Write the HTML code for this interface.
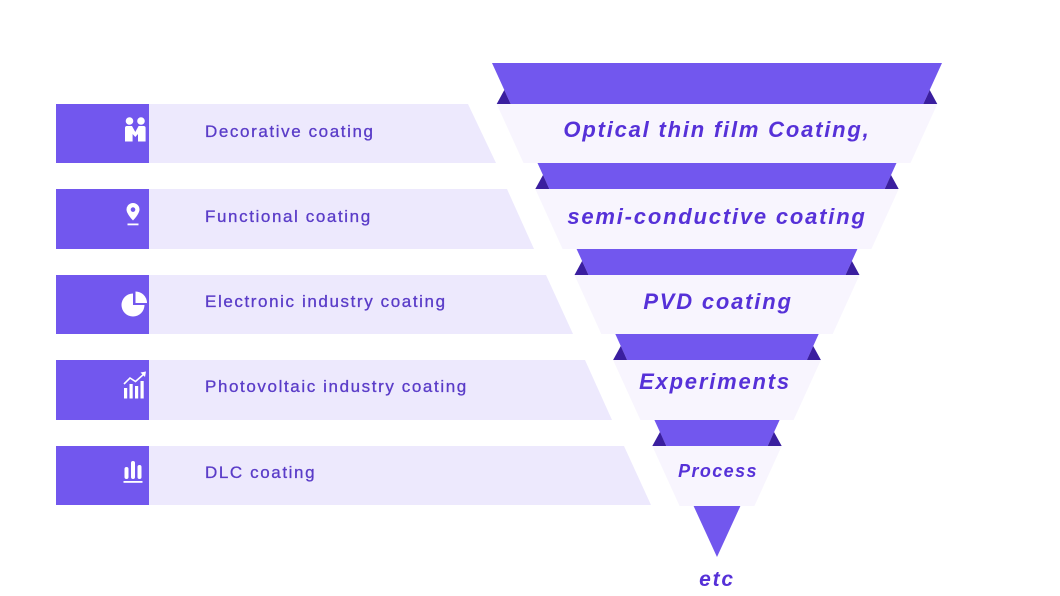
<!DOCTYPE html>
<html>
<head>
<meta charset="utf-8">
<style>
html,body{margin:0;padding:0;background:#ffffff;}
body{width:1060px;height:596px;overflow:hidden;}
svg{display:block;}
.lt{font-family:"Liberation Sans",sans-serif;font-size:17px;fill:#5a3cc8;letter-spacing:1.6px;stroke:#5a3cc8;stroke-width:0.3px;}
.ft{font-family:"Liberation Sans",sans-serif;font-weight:bold;font-style:italic;fill:#5631d8;letter-spacing:1.8px;}
</style>
</head>
<body>
<svg width="1060" height="596" viewBox="0 0 1060 596" xmlns="http://www.w3.org/2000/svg">
  <rect width="1060" height="596" fill="#ffffff"/>

  <!-- Left bars -->
  <g>
    <polygon points="149,104 468,104 496,163 149,163" fill="#ede9fd"/>
    <rect x="56" y="104" width="93" height="59" fill="#7257ee"/>
    <polygon points="149,189 507,189 534,249 149,249" fill="#ede9fd"/>
    <rect x="56" y="189" width="93" height="60" fill="#7257ee"/>
    <polygon points="149,275 546,275 573,334 149,334" fill="#ede9fd"/>
    <rect x="56" y="275" width="93" height="59" fill="#7257ee"/>
    <polygon points="149,360 585,360 612,420 149,420" fill="#ede9fd"/>
    <rect x="56" y="360" width="93" height="60" fill="#7257ee"/>
    <polygon points="149,446 624,446 651,505 149,505" fill="#ede9fd"/>
    <rect x="56" y="446" width="93" height="59" fill="#7257ee"/>
  </g>

  <!-- Left texts -->
  <text class="lt" x="205" y="137">Decorative coating</text>
  <text class="lt" x="205" y="222">Functional coating</text>
  <text class="lt" x="205" y="307">Electronic industry coating</text>
  <text class="lt" x="205" y="392">Photovoltaic industry coating</text>
  <text class="lt" x="205" y="478">DLC coating</text>

  <!-- Icons -->
  <g fill="#ffffff">
    <!-- people -->
    <circle cx="129.5" cy="121" r="3.8"/>
    <circle cx="141" cy="121" r="3.8"/>
    <path d="M125,128 Q125,126 127,126 L132,126 L135.3,132 L138.6,126 L143.6,126 Q145.6,126 145.6,128 L145.6,141.5 L138,141.5 L138,134 L135.3,137 L132.6,134 L132.6,141.5 L125,141.5 Z"/>
    <!-- pin -->
    <path d="M133,203 a6.5,6.5 0 0 1 6.5,6.5 c0,4.5 -6.5,11 -6.5,11 c0,0 -6.5,-6.5 -6.5,-11 a6.5,6.5 0 0 1 6.5,-6.5 z M133,207.3 a2.3,2.3 0 1 0 0.01,0 z" fill-rule="evenodd"/>
    <rect x="127.5" y="223.5" width="11" height="1.8"/>
    <!-- pie -->
    <path d="M133,293.5 L133,305 L144.5,305 A11.5,11.5 0 1 1 133,293.5 Z"/>
    <path d="M135.5,291.5 A11.5,11.5 0 0 1 147,303 L135.5,303 Z"/>
    <!-- chart arrow -->
    <rect x="124" y="388" width="3.2" height="10.5"/>
    <rect x="129.5" y="384" width="3.2" height="14.5"/>
    <rect x="135" y="386" width="3.2" height="12.5"/>
    <rect x="140.5" y="381" width="3.2" height="17.5"/>
    <polyline points="124,384 130,378 135.5,381.5 144,374" fill="none" stroke="#ffffff" stroke-width="1.6"/>
    <polygon points="146,371.5 140.5,372.5 145,377"/>
    <!-- bar chart -->
    <rect x="124.5" y="467" width="4" height="12" rx="2"/>
    <rect x="131" y="461" width="4" height="18" rx="2"/>
    <rect x="137.5" y="465" width="4" height="14" rx="2"/>
    <rect x="123.5" y="481" width="19" height="1.8"/>
  </g>

  <!-- Funnel light bands -->
  <g fill="#f8f5fe">
    <polygon points="496.7,104 937.3,104 910.5,163 523.5,163"/>
    <polygon points="535.3,189 898.7,189 871.4,249 562.6,249"/>
    <polygon points="574.5,275 859.5,275 832.7,334 601.3,334"/>
    <polygon points="613.1,360 820.9,360 793.6,420 640.4,420"/>
    <polygon points="652.3,446 781.7,446 754.4,506 679.6,506"/>
  </g>

  <!-- Funnel purple bands -->
  <g fill="#7257ee">
    <polygon points="492,63 942,63 923.3,104 510.7,104"/>
    <polygon points="537.5,163 896.5,163 884.7,189 549.3,189"/>
    <polygon points="576.6,249 857.4,249 845.5,275 588.5,275"/>
    <polygon points="615.3,334 818.7,334 806.9,360 627.1,360"/>
    <polygon points="654.4,420 779.6,420 767.7,446 666.3,446"/>
    <polygon points="693.6,506 740.4,506 717,557"/>
  </g>

  <!-- Dark fold triangles -->
  <g fill="#3a1e9f">
    <polygon points="496.7,104 504.3,90 510.7,104"/>
    <polygon points="937.3,104 929.7,90 923.3,104"/>
    <polygon points="535.3,189 543,175 549.3,189"/>
    <polygon points="898.7,189 891,175 884.7,189"/>
    <polygon points="574.5,275 582.1,261 588.5,275"/>
    <polygon points="859.5,275 851.9,261 845.5,275"/>
    <polygon points="613.1,360 620.8,346 627.1,360"/>
    <polygon points="820.9,360 813.2,346 806.9,360"/>
    <polygon points="652.3,446 660,432 666.3,446"/>
    <polygon points="781.7,446 774,432 767.7,446"/>
  </g>

  <!-- Funnel texts -->
  <text class="ft" x="717" y="137" font-size="22" text-anchor="middle">Optical thin film Coating,</text>
  <text class="ft" x="717" y="224" font-size="22" text-anchor="middle">semi-conductive coating</text>
  <text class="ft" x="718" y="309" font-size="22" text-anchor="middle">PVD coating</text>
  <text class="ft" x="715" y="389" font-size="22" text-anchor="middle">Experiments</text>
  <text class="ft" x="718" y="477" font-size="18" text-anchor="middle" style="letter-spacing:1.4px">Process</text>
  <text class="ft" x="717" y="586" font-size="21" text-anchor="middle">etc</text>
</svg>
</body>
</html>
